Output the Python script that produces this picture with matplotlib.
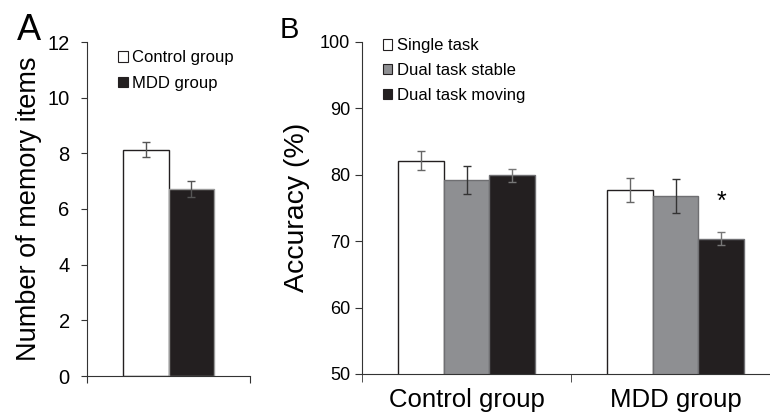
import matplotlib
matplotlib.use("Agg")
import matplotlib.pyplot as plt
from matplotlib.patches import Patch
import numpy as np

plt.rcParams['font.family'] = ['Liberation Sans', 'DejaVu Sans']

# Panel A data
a_groups = ["Control group", "MDD group"]
a_values = [8.13, 6.72]
a_errors = [0.27, 0.29]

# Panel B data
b_categories = ["Control group", "MDD group"]
b_conditions = ["Single task", "Dual task stable", "Dual task moving"]
b_values = {
    "Single task": [82.1, 77.7],
    "Dual task stable": [79.2, 76.8],
    "Dual task moving": [79.9, 70.35],
}
b_errors = {
    "Single task": [1.45, 1.8],
    "Dual task stable": [2.1, 2.55],
    "Dual task moving": [1.0, 1.0],
}

WHITE = "#ffffff"
GRAY = "#8e8f92"
BLACK = "#231f20"
SPINE = "#333333"

fig = plt.figure(figsize=(7.7, 4.12), dpi=100)

# ---------------- Panel A ----------------
axA = fig.add_axes([87/770, 1-376/412, (250-87)/770, (376-42)/412])
w = 0.282
fills = [WHITE, BLACK]
edges = [BLACK, "#9a9a9a"]
for i, (v, e) in enumerate(zip(a_values, a_errors)):
    x = (i - 0.5) * w
    axA.bar(x, v, width=w, color=fills[i], edgecolor=edges[i], linewidth=1.0, label=a_groups[i])
    axA.errorbar(x, v, yerr=e, fmt='none', ecolor="#555555", elinewidth=1.0, capsize=3, capthick=1.0)
axA.set_xlim(-0.5, 0.5)
axA.set_ylim(0, 12)
axA.set_yticks(np.arange(0, 13, 2))
axA.set_xticks([-0.5, 0.5])
axA.set_xticklabels([])
axA.tick_params(axis='x', direction='out', length=5, color=SPINE)
axA.tick_params(axis='y', direction='out', length=4.5, color=SPINE, labelsize=14.5, pad=8)
for s in ['top', 'right']:
    axA.spines[s].set_visible(False)
for s in ['left', 'bottom']:
    axA.spines[s].set_color(SPINE)
axA.set_ylabel("Number of memory items", fontsize=19.5, labelpad=4)
hA = [Patch(facecolor=WHITE, edgecolor=BLACK, linewidth=0.8),
      Patch(facecolor=BLACK, edgecolor=BLACK, linewidth=0.8)]
axA.legend(hA, a_groups, loc='upper left', bbox_to_anchor=(0.15, 0.995), frameon=False,
           fontsize=12, handlelength=0.6, handleheight=0.6, handletextpad=0.25,
           labelspacing=0.62, borderaxespad=0)
fig.text(17/770, 1-40/412, "A", fontsize=26, ha='left', va='baseline')

# ---------------- Panel B ----------------
axB = fig.add_axes([362/770, 1-374/412, (780-362)/770, (374-41.7)/412])
bw = 0.22
b_fill = [WHITE, GRAY, BLACK]
b_edge = [BLACK, "#6f6f72", "#6f6f72"]
b_ecol = ["#666666", "#333333", "#777777"]
xs = np.arange(len(b_categories))
for j, cond in enumerate(b_conditions):
    xpos = xs + (j - 1) * bw
    axB.bar(xpos, b_values[cond], width=bw, bottom=0, color=b_fill[j], edgecolor=b_edge[j],
            linewidth=1.0, label=cond)
    axB.errorbar(xpos, b_values[cond], yerr=b_errors[cond], fmt='none', ecolor=b_ecol[j],
                 elinewidth=1.0, capsize=3, capthick=1.0)
axB.set_xlim(-0.5, 1.5)
axB.set_ylim(50, 100)
axB.set_yticks(np.arange(50, 101, 10))
axB.set_xticks(xs)
axB.set_xticklabels(b_categories, fontsize=18.5)
axB.set_xticks([-0.5, 0.5], minor=True)
axB.tick_params(axis='x', which='major', length=0, pad=10)
axB.tick_params(axis='x', which='minor', direction='out', length=6, color=SPINE)
axB.tick_params(axis='y', direction='out', length=5, color=SPINE, labelsize=13)
for s in ['top', 'right']:
    axB.spines[s].set_visible(False)
for s in ['left', 'bottom']:
    axB.spines[s].set_color(SPINE)
axB.set_ylabel("Accuracy (%)", fontsize=20.5, labelpad=7)
# significance marker
axB.text(xs[1] + bw, b_values["Dual task moving"][1] + 5.5, "*", ha='center', va='center', fontsize=18)
hB = [Patch(facecolor=WHITE, edgecolor=BLACK, linewidth=0.8),
      Patch(facecolor=GRAY, edgecolor=BLACK, linewidth=0.8),
      Patch(facecolor=BLACK, edgecolor=BLACK, linewidth=0.8)]
axB.legend(hB, b_conditions, loc='upper left', bbox_to_anchor=(0.035, 1.03), frameon=False,
           fontsize=12, handlelength=0.55, handleheight=0.55, handletextpad=0.25,
           labelspacing=0.58, borderaxespad=0)
fig.text(280/770, 1-38/412, "B", fontsize=21, ha='left', va='baseline')

fig.savefig("out.png", dpi=100)
